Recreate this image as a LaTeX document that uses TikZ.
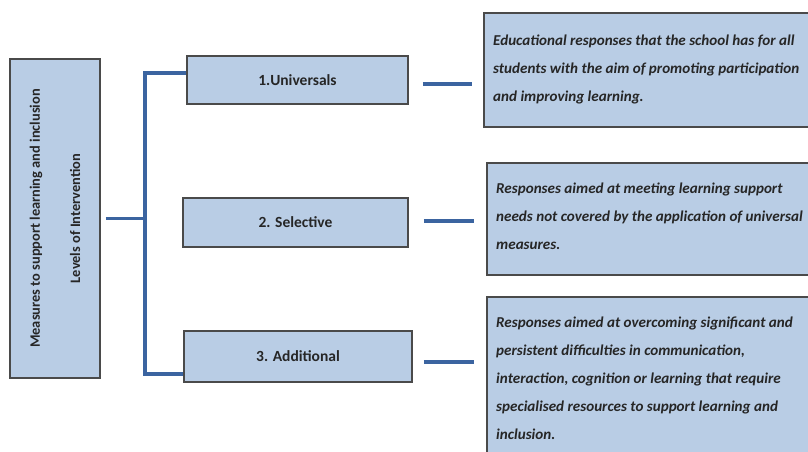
\documentclass[tikz,border=0pt]{standalone}
\usepackage{fontspec}
\setmainfont{Carlito}
\usetikzlibrary{calc}
\definecolor{boxfill}{HTML}{B9CDE5}
\definecolor{boxline}{HTML}{4A4A4A}
\definecolor{connblue}{HTML}{3B64A0}
\tikzset{
  levelbox/.style={draw=boxline, line width=1.5pt, fill=boxfill, rectangle, inner sep=0pt},
  desctext/.style={anchor=north west, inner sep=0pt, align=left, text=black!85,
    font=\bfseries\itshape\fontsize{15.1}{28}\selectfont},
  labeltext/.style={font=\bfseries\fontsize{15.5}{18}\selectfont, text=black!85},
  conn/.style={draw=connblue, line width=3.2pt},
}
\begin{document}
\begin{tikzpicture}[x=1pt,y=-1pt]
\useasboundingbox (0,0) rectangle (808,452);
\fill[white] (0,0) rectangle (808,452);
\clip (0,0) rectangle (808,452);

% left main box
\node[levelbox, minimum width=90pt, minimum height=319pt] (lm) at (55,218.5) {};
\node[rotate=90, align=center, font=\bfseries\fontsize{14.4}{40}\selectfont, text=black!85] (lmt) at (55,218.5)
  {Measures to support learning and inclusion\\Levels of Intervention};

% level boxes
\node[levelbox, minimum width=221pt, minimum height=48pt, labeltext] (b1) at (297.5,80) {1.Universals};
\node[levelbox, minimum width=225pt, minimum height=49pt, labeltext] (b2) at (295.5,222.5) {2. Selective};
\node[levelbox, minimum width=228pt, minimum height=51pt, labeltext] (b3) at (298,356.5) {3. Additional};

% description boxes
\node[levelbox, minimum width=336pt, minimum height=114pt] (r1) at (652,70) {};
\node[levelbox, minimum width=333pt, minimum height=112pt] (r2) at (653.5,219) {};
\node[levelbox, minimum width=333pt, minimum height=173pt] (r3) at (653.5,383.5) {};

\node[desctext] (t1) at (493,34.5) {Educational responses that the school has for all\\students with the aim of promoting participation\\and improving learning.};
\node[desctext] (t2) at (496,183) {Responses aimed at meeting learning support\\needs not covered by the application of universal\\measures.};
\node[desctext] (t3) at (496,317) {Responses aimed at overcoming significant and\\persistent difficulties in communication,\\interaction, cognition or learning that require\\specialised resources to support learning and\\inclusion.};

% connectors
\coordinate (j) at (145,218.5);
\draw[conn] ($(lm.east)+(5,0)$) -- (j);
\draw[conn] (j) |- ($(b1.west)+(0,-7)$);
\draw[conn] (j) |- ($(b3.west)+(0,17.5)$);
\draw[conn] ($(b1.east)+(14,4)$) -- ($(r1.west)+(-11,14)$);
\draw[conn] ($(b2.east)+(15,-1.5)$) -- ($(r2.west)+(-12,2)$);
\draw[conn] ($(b3.east)+(11,5.5)$) -- ($(r3.west)+(-12,-21.5)$);
\end{tikzpicture}
\end{document}
